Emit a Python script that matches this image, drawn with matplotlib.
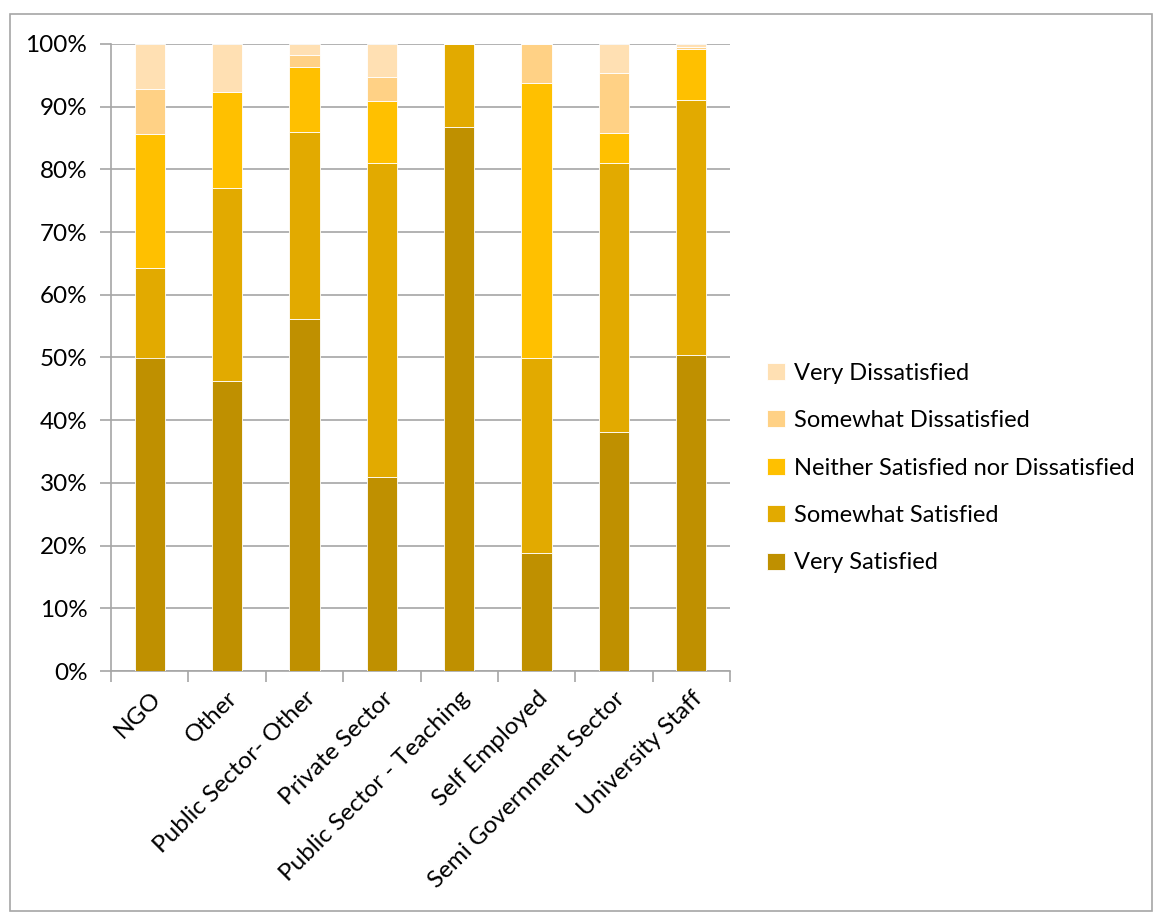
import matplotlib.pyplot as plt
from matplotlib.patches import Rectangle
from matplotlib.ticker import FixedLocator, NullFormatter

plt.rcParams['font.family'] = ['Lato', 'DejaVu Sans']

sectors = ['NGO', 'Other', 'Public Sector- Other', 'Private Sector',
           'Public Sector - Teaching', 'Self Employed',
           'Semi Government Sector', 'University Staff']

# shares in percent, per sector
very_satisfied = [50.0, 46.2, 56.1, 31.0, 86.7, 18.75, 38.1, 50.4]
somewhat_satisfied = [14.3, 30.8, 29.8, 50.1, 13.3, 31.25, 42.9, 40.7]
neither = [21.4, 15.4, 10.5, 9.8, 0.0, 43.75, 4.8, 8.1]
somewhat_dissatisfied = [7.1, 0.0, 1.8, 3.8, 0.0, 6.25, 9.5, 0.4]
very_dissatisfied = [7.2, 7.6, 1.8, 5.3, 0.0, 0.0, 4.7, 0.4]

series = [
    ('Very Satisfied', very_satisfied, '#BF9000'),
    ('Somewhat Satisfied', somewhat_satisfied, '#E2AA00'),
    ('Neither Satisfied nor Dissatisfied', neither, '#FFC000'),
    ('Somewhat Dissatisfied', somewhat_dissatisfied, '#FFD185'),
    ('Very Dissatisfied', very_dissatisfied, '#FFE0B3'),
]

fig = plt.figure(figsize=(11.54, 9.13), dpi=100)
ax = fig.add_axes([111 / 1154, 1 - 671 / 913, 619 / 1154, 627 / 913])

x = list(range(len(sectors)))
bottom = [0.0] * len(sectors)
for label, vals, color in series:
    ax.bar(x, vals, width=0.39, bottom=bottom, color=color, label=label,
           edgecolor='white', linewidth=0.6, zorder=3)
    bottom = [b + v for b, v in zip(bottom, vals)]

ax.set_xlim(-0.5, len(sectors) - 0.5)
ax.set_ylim(0, 100)
ax.set_yticks(range(0, 101, 10))
ax.set_yticklabels([f'{v}%' for v in range(0, 101, 10)], fontsize=17.5)
ax.yaxis.grid(True, color='#A6A6A6', linewidth=1.2, zorder=0)

ax.set_xticks(x)
ax.set_xticklabels(sectors, rotation=45, ha='right', rotation_mode='anchor',
                   fontsize=17.5)
ax.tick_params(axis='x', which='major', length=0, pad=12)
ax.xaxis.set_minor_locator(FixedLocator([i - 0.5 for i in range(len(sectors) + 1)]))
ax.xaxis.set_minor_formatter(NullFormatter())
ax.tick_params(axis='x', which='minor', length=8, color='#A6A6A6', width=1.2)
ax.tick_params(axis='y', length=8, color='#A6A6A6', width=1.2, pad=9)

for side in ['top', 'right']:
    ax.spines[side].set_visible(False)
for side in ['left', 'bottom']:
    ax.spines[side].set_color('#A6A6A6')
    ax.spines[side].set_linewidth(1.2)

handles, labels = ax.get_legend_handles_labels()
fig.legend(handles[::-1], labels[::-1], loc='center left',
           bbox_to_anchor=(746 / 1154, 1 - 468 / 913), frameon=False,
           fontsize=17, handlelength=0.75, handleheight=0.75,
           handletextpad=0.4, labelspacing=1.12)

fig.patches.append(Rectangle((10 / 1154, 0.002), 1 - 12 / 1154, 1 - 14 / 913 - 0.002,
                             transform=fig.transFigure, fill=False,
                             edgecolor='#A6A6A6', linewidth=1.2))

fig.savefig('out.png', dpi=100)
